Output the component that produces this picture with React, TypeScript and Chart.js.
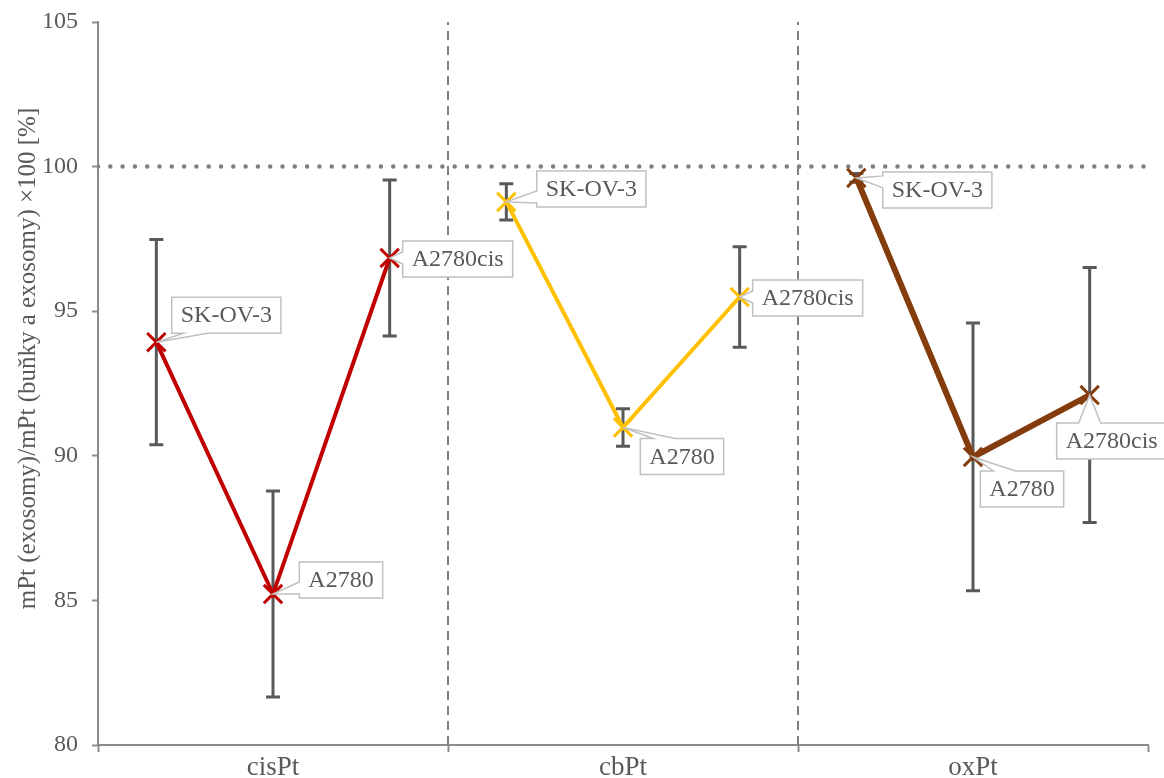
import { useEffect, useRef } from 'react';
import { Chart, registerables } from 'chart.js';

Chart.register(...registerables);

// ---- data ----
const categories = ['cisPt', 'cbPt', 'oxPt'];
const cellLines = ['SK-OV-3', 'A2780', 'A2780cis'];
const cisPtValues = [93.93, 85.22, 96.84];
const cisPtErrors = [3.55, 3.56, 2.7];
const cbPtValues = [98.78, 90.98, 95.49];
const cbPtErrors = [0.63, 0.65, 1.74];
const oxPtValues = [99.61, 89.96, 92.1];
const oxPtErrors = [0.15, 4.63, 4.41];
const referenceValue = 100;
const yMin = 80;
const yMax = 105;
const yStep = 5;
const yTitle = 'mPt (exosomy)/mPt (buňky a exosomy) ×100 [%]';

// ---- styles ----
const seriesColors = ['#C00000', '#FFC000', '#843C0C'];
const seriesWidths = [4, 4, 6];
const axisGray = '#8C8C8C';
const textGray = '#595959';
const errGray = '#595959';
const FONT = '"Liberation Serif", "Times New Roman", serif';

// label callout placement: [dx, dy] box centre offset from point, pointer side
const labelPlacements: [number, number, string][][] = [
  [[70, -27, 'bottom'], [68, -14, 'left'], [68, 1, 'left']],
  [[85, -13, 'left'], [59, 29, 'top'], [68, 1, 'left']],
  [[81, 12, 'left'], [49, 32, 'top'], [22, 46, 'top']],
];

const groupValues = [cisPtValues, cbPtValues, oxPtValues];
const groupErrors = [cisPtErrors, cbPtErrors, oxPtErrors];
const perGroup = cellLines.length;
const xMax = categories.length * perGroup;
const xPos = (g: number, i: number) => g * perGroup + i + 0.5;

const errorBarPlugin = {
  id: 'errorBars',
  beforeDatasetsDraw(chart: any) {
    const { ctx, scales } = chart;
    const xs = scales.x;
    const ys = scales.y;
    ctx.save();
    ctx.strokeStyle = errGray;
    ctx.lineWidth = 3;
    groupValues.forEach((vals, g) => {
      vals.forEach((v, i) => {
        const e = groupErrors[g][i];
        const x = xs.getPixelForValue(xPos(g, i));
        const yt = ys.getPixelForValue(v + e);
        const yb = ys.getPixelForValue(v - e);
        ctx.beginPath();
        ctx.moveTo(x, yt);
        ctx.lineTo(x, yb);
        ctx.moveTo(x - 7, yt);
        ctx.lineTo(x + 7, yt);
        ctx.moveTo(x - 7, yb);
        ctx.lineTo(x + 7, yb);
        ctx.stroke();
      });
    });
    ctx.restore();
  },
};

const calloutPlugin = {
  id: 'callouts',
  afterDatasetsDraw(chart: any) {
    const { ctx, scales } = chart;
    const xs = scales.x;
    const ys = scales.y;
    ctx.save();
    ctx.font = `24px ${FONT}`;
    groupValues.forEach((vals, g) => {
      vals.forEach((v, i) => {
        const px = xs.getPixelForValue(xPos(g, i));
        const py = ys.getPixelForValue(v);
        const [dx, dy, side] = labelPlacements[g][i];
        const text = cellLines[i];
        const w = ctx.measureText(text).width + 18;
        const h = 36;
        const cx = px + dx;
        const cy = py + dy;
        const x0 = cx - w / 2;
        const x1 = cx + w / 2;
        const y0 = cy - h / 2;
        const y1 = cy + h / 2;
        const clamp = (a: number, lo: number, hi: number) => Math.max(lo, Math.min(hi, a));
        ctx.beginPath();
        if (side === 'left') {
          const c = clamp(py, y0 + 10, y1 - 10);
          ctx.moveTo(x0, y0);
          ctx.lineTo(x1, y0);
          ctx.lineTo(x1, y1);
          ctx.lineTo(x0, y1);
          ctx.lineTo(x0, c + 6);
          ctx.lineTo(px, py);
          ctx.lineTo(x0, c - 6);
          ctx.closePath();
        } else if (side === 'top') {
          const c = clamp(px, x0 + 24, x1 - 24);
          ctx.moveTo(x0, y0);
          ctx.lineTo(c - 11, y0);
          ctx.lineTo(px, py);
          ctx.lineTo(c + 11, y0);
          ctx.lineTo(x1, y0);
          ctx.lineTo(x1, y1);
          ctx.lineTo(x0, y1);
          ctx.closePath();
        } else {
          const c = clamp(px, x0 + 24, x1 - 24);
          ctx.moveTo(x0, y0);
          ctx.lineTo(x1, y0);
          ctx.lineTo(x1, y1);
          ctx.lineTo(c + 12, y1);
          ctx.lineTo(px, py);
          ctx.lineTo(c - 12, y1);
          ctx.lineTo(x0, y1);
          ctx.closePath();
        }
        ctx.fillStyle = '#FFFFFF';
        ctx.fill();
        ctx.strokeStyle = '#C0C0C0';
        ctx.lineWidth = 1.5;
        ctx.stroke();
        ctx.fillStyle = textGray;
        ctx.textAlign = 'center';
        ctx.textBaseline = 'middle';
        ctx.fillText(text, cx, cy + 1);
      });
    });
    ctx.restore();
  },
};

export default function App() {
  const ref = useRef<HTMLCanvasElement | null>(null);

  useEffect(() => {
    if (!ref.current) return;
    const groupDatasets = categories.map((cat, g) => ({
      label: cat,
      data: groupValues[g].map((v, i) => ({ x: xPos(g, i), y: v })),
      borderColor: seriesColors[g],
      backgroundColor: seriesColors[g],
      borderWidth: seriesWidths[g],
      pointStyle: 'crossRot',
      pointRadius: 13,
      pointBorderWidth: 3,
      pointBorderColor: seriesColors[g],
      tension: 0,
      order: 0,
    }));
    const refLine = {
      label: 'ref',
      data: [{ x: 0, y: referenceValue }, { x: xMax, y: referenceValue }],
      borderColor: '#7F7F7F',
      borderWidth: 4.5,
      borderDash: [0, 12.3],
      borderCapStyle: 'round',
      pointRadius: 0,
      order: 10,
    };
    const dividers = categories.slice(1).map((_, k) => ({
      label: 'div' + k,
      data: [{ x: (k + 1) * perGroup, y: yMin }, { x: (k + 1) * perGroup, y: yMax }],
      borderColor: '#7F7F7F',
      borderWidth: 2,
      borderDash: [9, 6],
      pointRadius: 0,
      order: 10,
    }));

    const chart = new Chart(ref.current, {
      type: 'line',
      data: { datasets: [...groupDatasets, refLine, ...dividers] as any },
      options: {
        animation: false,
        responsive: false,
        layout: { padding: { top: 22, right: 12, left: 0, bottom: 0 } },
        plugins: { legend: { display: false }, tooltip: { enabled: false } },
        scales: {
          x: {
            type: 'linear',
            min: 0,
            max: xMax,
            afterBuildTicks: (scale: any) => {
              const t: { value: number }[] = [];
              for (let g = 0; g <= categories.length; g++) {
                t.push({ value: g * perGroup });
                if (g < categories.length) t.push({ value: g * perGroup + perGroup / 2 });
              }
              scale.ticks = t;
            },
            afterFit: (scale: any) => {
              scale.height = 33;
              scale.paddingLeft = 0;
              scale.paddingRight = 0;
            },
            ticks: {
              autoSkip: false,
              maxRotation: 0,
              padding: 0,
              color: textGray,
              font: { family: FONT, size: 27 },
              callback: (value: any) => {
                const v = Number(value);
                if (v % perGroup === 0) return '';
                return categories[Math.floor(v / perGroup)];
              },
            },
            grid: {
              drawOnChartArea: false,
              tickLength: 7,
              tickWidth: 2,
              tickColor: (c: any) =>
                c.tick && c.tick.value % perGroup === 0 ? axisGray : 'rgba(0,0,0,0)',
            },
            border: { display: true, color: axisGray, width: 2 },
          },
          y: {
            min: yMin,
            max: yMax,
            afterFit: (scale: any) => {
              scale.width = 98;
              scale.paddingTop = 0;
              scale.paddingBottom = 0;
            },
            ticks: {
              stepSize: yStep,
              padding: 14,
              color: textGray,
              font: { family: FONT, size: 24 },
            },
            grid: {
              drawOnChartArea: false,
              tickLength: 6,
              tickWidth: 2,
              tickColor: axisGray,
            },
            border: { display: true, color: axisGray, width: 2 },
            title: {
              display: true,
              text: '        ' + yTitle,
              color: textGray,
              font: { family: FONT, size: 25 },
              padding: { top: 13, bottom: 0 },
            },
          },
        },
      },
      plugins: [errorBarPlugin, calloutPlugin],
    } as any);
    return () => chart.destroy();
  }, []);

  return (
    <div style={{ position: 'absolute', left: 0, top: 0, width: 1164, height: 778, background: '#fff' }}>
      <canvas ref={ref} width={1164} height={778} style={{ display: 'block' }} />
    </div>
  );
}
